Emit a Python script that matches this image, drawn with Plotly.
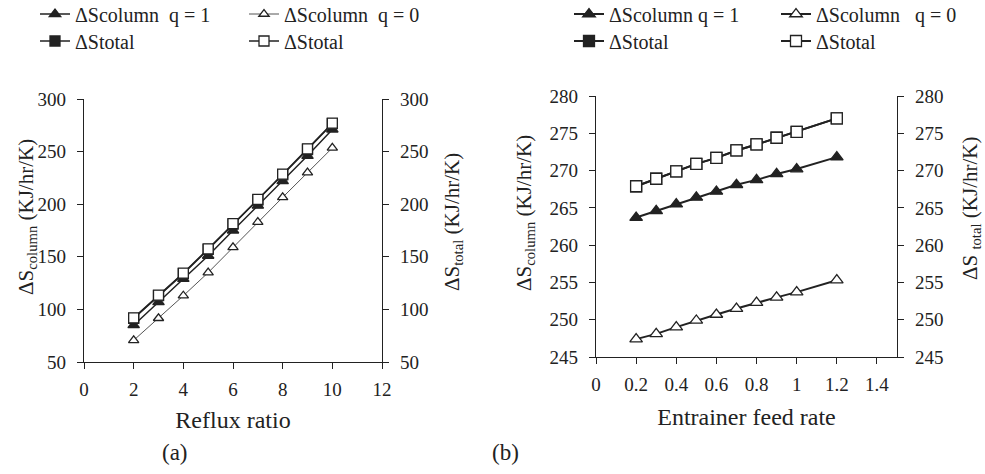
import plotly.graph_objects as go

# ---------------- data ----------------
reflux = [2, 3, 4, 5, 6, 7, 8, 9, 10]
a_col_q1 = [85, 107, 129, 151, 175, 198.6, 222, 246, 271]
a_col_q0 = [70.6, 91.6, 113, 135, 159, 183, 206.5, 230, 253.5]
a_tot_q1 = [91.5, 113, 134, 157, 181, 204, 228, 252, 276.5]
a_tot_q0 = [92, 113.5, 134.5, 157.5, 181.5, 204.5, 228.5, 252.5, 277]

feed = [0.2, 0.3, 0.4, 0.5, 0.6, 0.7, 0.8, 0.9, 1.0, 1.2]
b_col_q1 = [263.7, 264.6, 265.5, 266.4, 267.2, 268.1, 268.75, 269.55, 270.2, 271.8]
b_col_q0 = [247.4, 248.1, 249.0, 249.9, 250.7, 251.5, 252.3, 253.0, 253.7, 255.3]
b_tot_q1 = [267.9, 268.9, 269.9, 270.9, 271.7, 272.7, 273.5, 274.4, 275.2, 277.0]
b_tot_q0 = [267.9, 268.9, 269.9, 270.9, 271.7, 272.7, 273.5, 274.4, 275.2, 277.0]

names_a = ["ΔScolumn\u00a0\u00a0q = 1", "ΔScolumn\u00a0\u00a0q = 0", "ΔStotal", "ΔStotal"]
names_b = ["ΔScolumn q = 1", "ΔScolumn\u00a0\u00a0\u00a0q = 0", "ΔStotal", "ΔStotal"]

W, H = 985, 474
FONT = "Liberation Serif, DejaVu Serif, Times New Roman, serif"
INK = "#222222"

def px(x):
    return x / W

def py(y):
    return 1 - y / H

fig = go.Figure()

def add(x, y, name, xa, ya, legend, symbol, filled, size, lw, lcolor=INK):
    fig.add_trace(go.Scatter(
        x=x, y=y, name=name, mode="lines+markers", xaxis=xa, yaxis=ya, legend=legend,
        showlegend=True,
        line=dict(color=lcolor, width=lw),
        marker=dict(symbol=symbol, size=size,
                    color=INK if filled else "white",
                    line=dict(color=INK, width=1.3)),
    ))

# panel (a)
add(reflux, a_col_q1, names_a[0], "x", "y", "legend", "triangle-up", True, 10, 1.5)
add(reflux, a_col_q0, names_a[1], "x", "y", "legend2", "triangle-up", False, 9, 1.0, "#555555")
add(reflux, a_tot_q1, names_a[2], "x", "y2", "legend3", "square", True, 10, 1.5)
add(reflux, a_tot_q0, names_a[3], "x", "y2", "legend4", "square", False, 10, 1.5)

# panel (b)
add(feed, b_col_q1, names_b[0], "x2", "y3", "legend5", "triangle-up", True, 11, 2)
add(feed, b_col_q0, names_b[1], "x2", "y3", "legend6", "triangle-up", False, 11, 2)
add(feed, b_tot_q1, names_b[2], "x2", "y4", "legend7", "square", True, 11, 2)
add(feed, b_tot_q0, names_b[3], "x2", "y4", "legend8", "square", False, 11, 2)

tickfont = dict(family=FONT, size=19, color=INK)
xtitlefont = dict(family=FONT, size=24, color=INK)
ytitlefont = dict(family=FONT, size=21, color=INK)
ax_common = dict(showgrid=False, zeroline=False, showline=True, linecolor=INK, linewidth=1.3,
                 ticks="outside", ticklen=6, tickcolor=INK, tickwidth=1.3, tickfont=tickfont)

a_x0, a_x1, a_y0, a_y1 = 84, 382, 362, 99
b_x0, b_x1, b_y0, b_y1 = 596, 897, 357, 96

fig.update_layout(
    width=W, height=H, margin=dict(l=0, r=0, t=0, b=0, autoexpand=False),
    paper_bgcolor="white", plot_bgcolor="white", showlegend=True,
    font=dict(family=FONT, color=INK),
    xaxis=dict(domain=[px(a_x0), px(a_x1)], range=[0, 12], dtick=2, anchor="y", ticklabelstandoff=4,
               title=dict(text="Reflux ratio", font=xtitlefont, standoff=12), **ax_common),
    yaxis=dict(domain=[py(a_y0), py(a_y1)], range=[50, 300], dtick=50, anchor="x",
               ticklabelstandoff=7, **ax_common),
    yaxis2=dict(range=[50, 300], dtick=50, overlaying="y", side="right", anchor="x",
                ticklabelstandoff=7, **ax_common),
    xaxis2=dict(domain=[px(b_x0), px(b_x1)], range=[0, 1.5], tickvals=[0, 0.2, 0.4, 0.6, 0.8, 1, 1.2, 1.4],
                anchor="y3", ticklabelstandoff=4,
                title=dict(text="Entrainer feed rate", font=xtitlefont, standoff=14), **ax_common),
    yaxis3=dict(domain=[py(b_y0), py(b_y1)], range=[245, 280], dtick=5, anchor="x2",
                ticklabelstandoff=7, **ax_common),
    yaxis4=dict(range=[245, 280], dtick=5, overlaying="y3", side="right", anchor="x2",
                ticklabelstandoff=7, **ax_common),
)

# y-axis titles (rotated)
ytitles = [
    ("ΔS<sub>column</sub> (KJ/hr/K)", 27, 217),
    ("ΔS<sub>total</sub> (KJ/hr/K)", 453, 222),
    ("ΔS<sub>column</sub> (KJ/hr/K)", 525, 213),
    ("ΔS <sub>total</sub> (KJ/hr/K)", 971, 209),
]
for txt, tx, ty in ytitles:
    fig.add_annotation(text=txt, x=px(tx), y=py(ty), xref="paper", yref="paper",
                       xanchor="center", yanchor="middle",
                       textangle=-90, showarrow=False, font=ytitlefont)

legfont = dict(family=FONT, size=20, color=INK)
leg_pos = {
    "legend": (35, 14), "legend2": (244, 14), "legend3": (35, 41), "legend4": (244, 41),
    "legend5": (569, 14), "legend6": (776, 14), "legend7": (569, 41), "legend8": (776, 41),
}
for k, (lx, ly) in leg_pos.items():
    fig.update_layout({k: dict(x=px(lx), y=py(ly), xref="container", yref="container",
                               xanchor="left", yanchor="middle",
                               bgcolor="rgba(0,0,0,0)", borderwidth=0, font=legfont,
                               itemwidth=30, tracegroupgap=0)})

for lbl, lx in (("(a)", 175), ("(b)", 505)):
    fig.add_annotation(text=lbl, x=px(lx), y=py(452), xref="paper", yref="paper",
                       xanchor="center", yanchor="middle",
                       showarrow=False, font=dict(family=FONT, size=23, color=INK))

fig.write_html("out.html", config={"displayModeBar": False},
               post_script="document.body.style.margin='0';")
